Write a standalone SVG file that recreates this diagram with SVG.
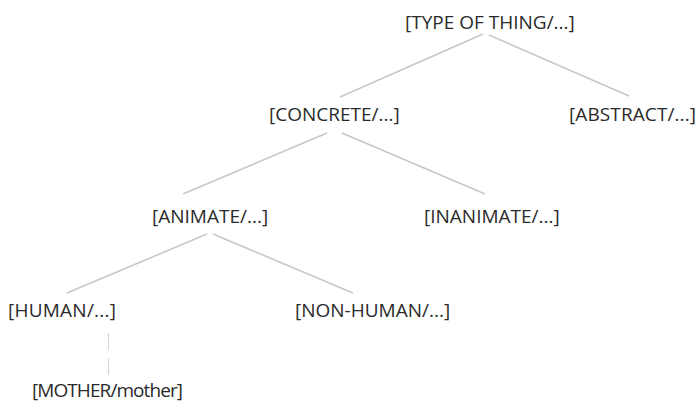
<svg xmlns="http://www.w3.org/2000/svg" width="699" height="402" viewBox="0 0 699 402">
<style>
text{font-family:"Open Sans","Noto Sans","DejaVu Sans",sans-serif;font-size:19px;fill:#2a2a2a}
.e{stroke:#c8c8c8;stroke-width:1.6;fill:none}
.d{stroke:#d8d8d8;stroke-width:1.2;stroke-dasharray:17 8;fill:none}
</style>
<rect width="699" height="402" fill="#fff"/>
<g id="connectors">
<line class="e" x1="483" y1="34" x2="340" y2="97"/>
<line class="e" x1="489" y1="35" x2="629" y2="96"/>
<line class="e" x1="327" y1="133" x2="183" y2="194"/>
<line class="e" x1="342" y1="133" x2="485" y2="194"/>
<line class="e" x1="207" y1="234" x2="67" y2="293"/>
<line class="e" x1="213" y1="234" x2="353" y2="293"/>
<line class="d" x1="108.5" y1="333" x2="108.5" y2="376"/>
</g>
<g id="type"><text x="405" y="29">[TYPE OF THING/...]</text></g>
<g id="concrete"><text x="269" y="121">[CONCRETE/...]</text></g>
<g id="abstract"><text x="569" y="121" textLength="127">[ABSTRACT/...]</text></g>
<g id="animate"><text x="152" y="223">[ANIMATE/...]</text></g>
<g id="inanimate"><text x="424" y="223">[INANIMATE/...]</text></g>
<g id="human"><text x="8" y="317" textLength="108">[HUMAN/...]</text></g>
<g id="nonhuman"><text x="295" y="317">[NON-HUMAN/...]</text></g>
<g id="mother"><text x="32" y="397" textLength="151">[MOTHER/mother]</text></g>
</svg>
